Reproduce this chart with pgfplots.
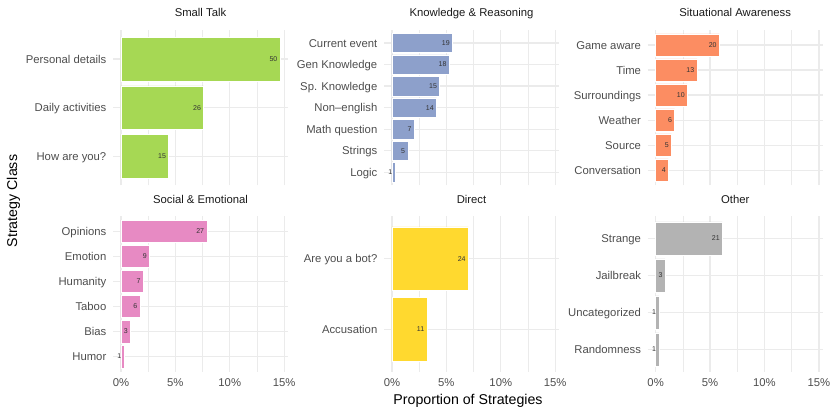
\documentclass[border=0pt]{standalone}
\usepackage{fontspec}
\setmainfont{Liberation Sans}
\usepackage{pgfplots}
\pgfplotsset{compat=1.18}

\definecolor{cgreen}{HTML}{A6D854}
\definecolor{cblue}{HTML}{8DA0CB}
\definecolor{corange}{HTML}{FC8D62}
\definecolor{cpink}{HTML}{E78AC3}
\definecolor{cyellow}{HTML}{FFD92F}
\definecolor{cgrey}{HTML}{B3B3B3}
\definecolor{gridgrey}{HTML}{EBEBEB}
\definecolor{ticktext}{HTML}{4D4D4D}
\definecolor{striptext}{HTML}{1A1A1A}
\definecolor{counttext}{HTML}{333333}

\pgfplotsset{
  panel/.style={
    scale only axis, width=175bp, height=155.3bp,
    anchor=south west,
    xbar, bar width=0.9, bar shift=0pt,
    xmin=-0.731, xmax=15.351,
    xtick={0,5,10,15}, minor xtick={2.5,7.5,12.5},
    xticklabels={0\%,5\%,10\%,15\%},
    xmajorgrids, xminorgrids, ymajorgrids,
    major grid style={color=gridgrey, line width=1.3bp},
    minor grid style={color=gridgrey, line width=0.65bp},
    axis line style={draw=none},
    major tick length=0pt, minor tick length=0pt,
    tick style={draw=none},
    ticklabel style={font=\fontsize{11.3bp}{13bp}\selectfont, text=ticktext},
    xticklabel style={anchor=base, inner sep=0pt, yshift=-15bp},
    yticklabel style={anchor=base east, inner sep=0pt, xshift=-6.5bp, yshift=-4.1bp},
    title style={at={(0.5,1)}, anchor=base, inner sep=0pt, yshift=7.3bp,
      font=\fontsize{11.3bp}{13bp}\selectfont, text=striptext},
    nodes near coords,
    point meta=explicit symbolic,
    nodes near coords style={anchor=east, inner sep=0pt, xshift=-2.5bp,
      font=\fontsize{7bp}{8bp}\selectfont, text=counttext},
  },
  toprow/.style={xticklabels={,,,}},
  barstyle/.style={fill=#1, draw=white, line width=0.5bp},
}

\begin{document}
\begin{tikzpicture}
\useasboundingbox (0,0) rectangle (830bp,415bp);

% Small Talk
\begin{axis}[panel, toprow, at={(113bp,229.7bp)}, title={Small Talk},
  ymin=0.4, ymax=3.6, ytick={1,2,3},
  yticklabels={How are you?, Daily activities, Personal details}]
\addplot[barstyle=cgreen] table[x=p, y=i, meta=n] {
i p n
1 4.386 15
2 7.602 26
3 14.620 50
};
\end{axis}

% Knowledge & Reasoning
\begin{axis}[panel, toprow, at={(384bp,229.7bp)}, title={Knowledge \& Reasoning},
  ymin=0.4, ymax=7.6, ytick={1,...,7},
  yticklabels={Logic, Strings, Math question, Non\textendash english, Sp. Knowledge, Gen Knowledge, Current event}]
\addplot[barstyle=cblue] table[x=p, y=i, meta=n] {
i p n
1 0.292 1
2 1.462 5
3 2.047 7
4 4.094 14
5 4.386 15
6 5.263 18
7 5.556 19
};
\end{axis}

% Situational Awareness
\begin{axis}[panel, toprow, at={(647.7bp,229.7bp)}, title={Situational Awareness},
  ymin=0.4, ymax=6.6, ytick={1,...,6},
  yticklabels={Conversation, Source, Weather, Surroundings, Time, Game aware}]
\addplot[barstyle=corange] table[x=p, y=i, meta=n] {
i p n
1 1.170 4
2 1.462 5
3 1.754 6
4 2.924 10
5 3.801 13
6 5.848 20
};
\end{axis}

% Social & Emotional
\begin{axis}[panel, at={(113bp,43.4bp)}, title={Social \& Emotional},
  ymin=0.4, ymax=6.6, ytick={1,...,6},
  yticklabels={Humor, Bias, Taboo, Humanity, Emotion, Opinions}]
\addplot[barstyle=cpink] table[x=p, y=i, meta=n] {
i p n
1 0.292 1
2 0.877 3
3 1.754 6
4 2.047 7
5 2.632 9
6 7.895 27
};
\end{axis}

% Direct
\begin{axis}[panel, at={(384bp,43.4bp)}, title={Direct},
  ymin=0.4, ymax=2.6, ytick={1,2},
  yticklabels={Accusation, Are you a bot?}]
\addplot[barstyle=cyellow] table[x=p, y=i, meta=n] {
i p n
1 3.216 11
2 7.018 24
};
\end{axis}

% Other
\begin{axis}[panel, at={(647.7bp,43.4bp)}, title={Other},
  ymin=0.4, ymax=4.6, ytick={1,...,4},
  yticklabels={Randomness, Uncategorized, Jailbreak, Strange}]
\addplot[barstyle=cgrey] table[x=p, y=i, meta=n] {
i p n
1 0.292 1
2 0.292 1
3 0.877 3
4 6.140 21
};
\end{axis}

\node[anchor=base, inner sep=0pt, font=\fontsize{14.2bp}{16bp}\selectfont] at (468bp,11bp) {Proportion of Strategies};
\node[anchor=base, rotate=90, inner sep=0pt, font=\fontsize{14.2bp}{16bp}\selectfont] at (17bp,214bp) {Strategy Class};
\end{tikzpicture}
\end{document}
